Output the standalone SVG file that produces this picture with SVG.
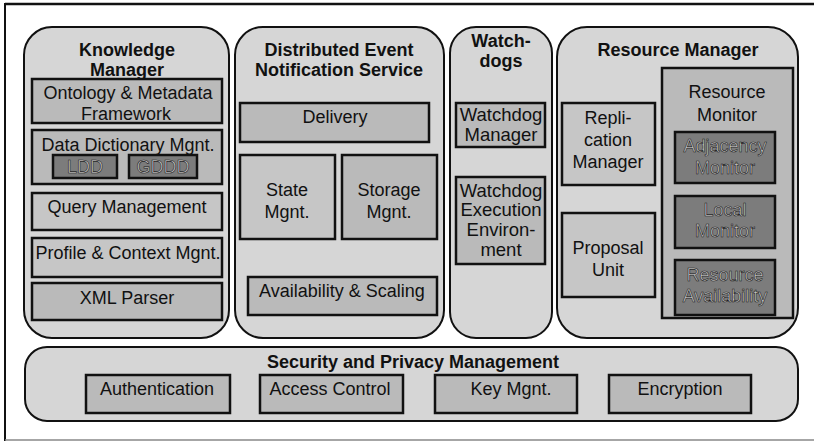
<svg xmlns="http://www.w3.org/2000/svg" width="814" height="442" viewBox="0 0 814 442">
<style>
.panel{fill:#d6d6d6;stroke:#111;stroke-width:2}
.box{stroke:#111;stroke-width:2.5}
.m1{fill:#bababa}
.m2{fill:#c6c6c6}
.dk{fill:#7c7c7c}
.t{font-family:"Liberation Sans",Arial,sans-serif;font-size:18px;text-anchor:middle;fill:#111}
.b{font-weight:bold}
.w{font-size:18.5px}
.lt{fill:#c8c8c8;stroke:#1a1a1a;stroke-width:0.6}
</style>
<rect width="814" height="442" fill="#fff"/>
<g id="frame">
<line x1="5" y1="4" x2="814" y2="4" stroke="#111" stroke-width="2.5"/>
<line x1="5" y1="3" x2="5" y2="441" stroke="#111" stroke-width="2"/>
<line x1="5" y1="440" x2="814" y2="440" stroke="#888" stroke-width="1.5"/>
</g>
<g id="knowledge-manager">
<rect class="panel" x="24" y="27" width="205" height="311" rx="28"/>
<text class="t b" x="127" y="56">Knowledge</text>
<text class="t b" x="127" y="76">Manager</text>
<g id="ontology"><rect class="box m1" x="32" y="79" width="190" height="44"/>
<text class="t" x="128" y="99">Ontology &amp;  Metadata</text>
<text class="t" x="126" y="120">Framework</text></g>
<g id="data-dictionary"><rect class="box m1" x="32" y="130" width="190" height="54"/>
<text class="t" x="128" y="151">Data Dictionary Mgnt.</text>
<rect class="box dk" x="53" y="155" width="64" height="23"/>
<text class="t lt" x="85" y="173">LDD</text>
<rect class="box dk" x="129" y="155" width="68" height="23"/>
<text class="t lt" x="163" y="173">GDDD</text></g>
<g id="query"><rect class="box m2" x="32" y="193" width="190" height="37"/>
<text class="t" x="127" y="213">Query Management</text></g>
<g id="profile"><rect class="box m2" x="32" y="238" width="190" height="39"/>
<text class="t" x="128" y="259">Profile &amp; Context Mgnt.</text></g>
<g id="xml"><rect class="box m1" x="32" y="283" width="190" height="37"/>
<text class="t" x="127" y="304">XML Parser</text></g>
</g>
<g id="event-service">
<rect class="panel" x="235" y="27" width="209" height="311" rx="28"/>
<text class="t b" x="339" y="56">Distributed Event</text>
<text class="t b" x="339" y="76">Notification Service</text>
<g id="delivery"><rect class="box m1" x="240" y="103" width="189" height="39"/>
<text class="t" x="335" y="123">Delivery</text></g>
<g id="state"><rect class="box m2" x="240" y="155" width="95" height="84"/>
<text class="t" x="287" y="196">State</text>
<text class="t" x="287" y="218">Mgnt.</text></g>
<g id="storage"><rect class="box m1" x="342" y="155" width="95" height="84"/>
<text class="t" x="389" y="196">Storage</text>
<text class="t" x="389" y="218">Mgnt.</text></g>
<g id="availability"><rect class="box m1" x="248" y="277" width="189" height="38"/>
<text class="t" x="342" y="297">Availability &amp; Scaling</text></g>
</g>
<g id="watchdogs">
<rect class="panel" x="450" y="27" width="102" height="311" rx="26"/>
<text class="t b" x="501" y="47">Watch-</text>
<text class="t b" x="501" y="67">dogs</text>
<g id="watchdog-manager"><rect class="box m1" x="456" y="103" width="89" height="44"/>
<text class="t w" x="501" y="121">Watchdog</text>
<text class="t w" x="501" y="141">Manager</text></g>
<g id="watchdog-env"><rect class="box m1" x="456" y="177" width="89" height="87"/>
<text class="t w" x="501" y="197">Watchdog</text>
<text class="t w" x="501" y="216">Execution</text>
<text class="t w" x="501" y="236">Environ-</text>
<text class="t w" x="501" y="256">ment</text></g>
</g>
<g id="resource-manager">
<rect class="panel" x="557" y="27" width="241" height="311" rx="30"/>
<text class="t b" x="678" y="56">Resource Manager</text>
<g id="replication"><rect class="box m2" x="562" y="103" width="93" height="82"/>
<text class="t" x="608" y="124">Repli-</text>
<text class="t" x="608" y="146">cation</text>
<text class="t" x="608" y="168">Manager</text></g>
<g id="proposal"><rect class="box m2" x="562" y="213" width="93" height="84"/>
<text class="t" x="608" y="254">Proposal</text>
<text class="t" x="608" y="276">Unit</text></g>
<g id="resource-monitor"><rect class="box m1" x="662" y="68" width="131" height="250" stroke-width="2"/>
<text class="t" x="727" y="98">Resource</text>
<text class="t" x="727" y="121">Monitor</text>
<g id="adjacency"><rect class="box dk" x="675" y="132" width="100" height="51"/>
<text class="t lt" x="725" y="152">Adjacency</text>
<text class="t lt" x="725" y="174">Monitor</text></g>
<g id="local"><rect class="box dk" x="675" y="196" width="100" height="52"/>
<text class="t lt" x="725" y="216">Local</text>
<text class="t lt" x="725" y="237">Monitor</text></g>
<g id="res-availability"><rect class="box dk" x="675" y="260" width="100" height="55"/>
<text class="t lt" x="725" y="281">Resource</text>
<text class="t lt" x="725" y="302">Availability</text></g>
</g>
</g>
<g id="security">
<rect class="panel" x="25" y="347" width="773" height="74" rx="22"/>
<text class="t b" x="413" y="368">Security and Privacy Management</text>
<g id="authentication"><rect class="box m1" x="86" y="375" width="144" height="38"/>
<text class="t" x="157" y="395">Authentication</text></g>
<g id="access-control"><rect class="box m1" x="260" y="375" width="143" height="38"/>
<text class="t" x="330" y="395">Access Control</text></g>
<g id="key-mgnt"><rect class="box m1" x="435" y="375" width="142" height="38"/>
<text class="t" x="511" y="395">Key Mgnt.</text></g>
<g id="encryption"><rect class="box m1" x="609" y="375" width="142" height="38"/>
<text class="t" x="680" y="395">Encryption</text></g>
</g>
<g id="connectors"/>
</svg>
